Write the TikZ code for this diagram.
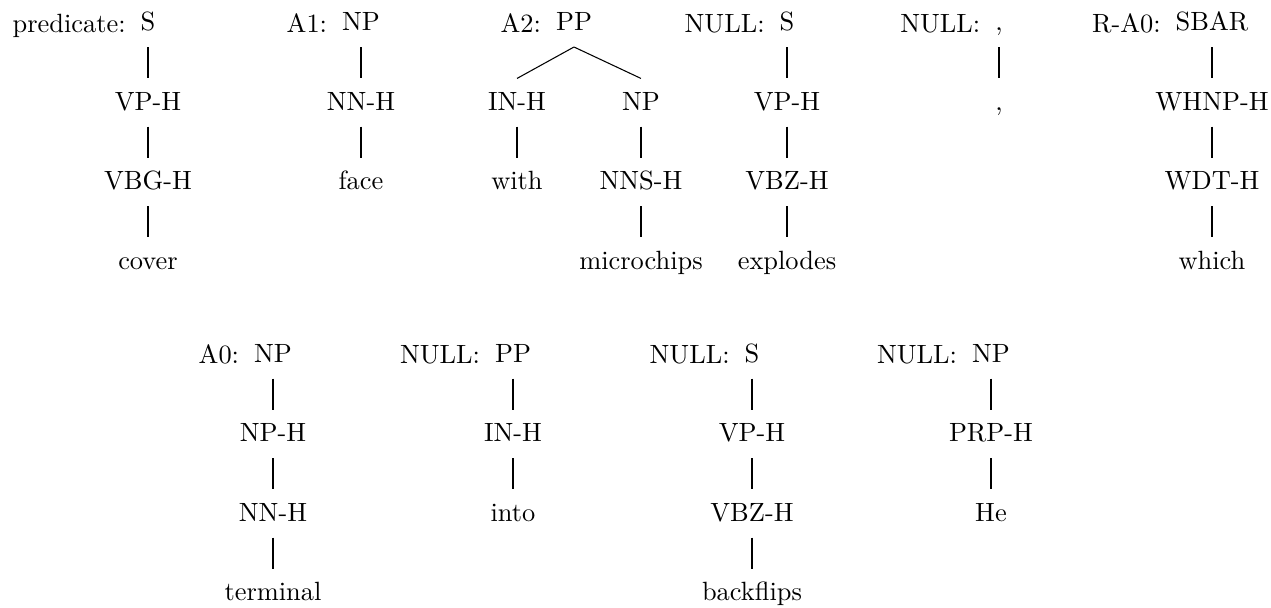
\documentclass[tikz,border=0pt]{standalone}
\begin{document}
\begin{tikzpicture}[x=0.37879pt,y=-0.37879pt,
  tn/.style={anchor=base, inner xsep=0pt, inner ysep=4.85pt,
             text height=6.9pt, text depth=1.2pt},
  lab/.style={anchor=base east, inner sep=0pt},
  every path/.style={line width=0.4pt}]
\useasboundingbox (0,0) rectangle (1271,608);

% ---------- upper row ----------
% predicate: S
\node[tn] (a0) at (148,30.5) {S};
\node[tn] (a1) at (148,110) {VP-H};
\node[tn] (a2) at (148,189.5) {VBG-H};
\node[tn] (a3) at (148,269) {cover};
\node[lab] (la) at ([xshift=-5.3pt,yshift=-0.6pt]a0.base west) {predicate:};
\draw (a0) -- (a1) (a1) -- (a2) (a2) -- (a3);

% A1: NP
\node[tn] (b0) at (361,30.5) {NP};
\node[tn] (b1) at (361,110) {NN-H};
\node[tn] (b2) at (361,189.5) {face};
\node[lab] (lb) at ([xshift=-5.3pt,yshift=-0.6pt]b0.base west) {A1:};
\draw (b0) -- (b1) (b1) -- (b2);

% A2: PP
\node[tn] (c0) at (574,30.5) {PP};
\node[tn] (c1) at (517,110) {IN-H};
\node[tn] (c2) at (517,189.5) {with};
\node[tn] (c3) at (641,110) {NP};
\node[tn] (c4) at (641,189.5) {NNS-H};
\node[tn] (c5) at (641,269) {microchips};
\node[lab] (lc) at ([xshift=-5.3pt,yshift=-0.6pt]c0.base west) {A2:};
\draw (c0.south) -- (c1.north) (c0.south) -- (c3.north);
\draw (c1) -- (c2) (c3) -- (c4) (c4) -- (c5);

% NULL: S
\node[tn] (d0) at (787,30.5) {S};
\node[tn] (d1) at (787,110) {VP-H};
\node[tn] (d2) at (787,189.5) {VBZ-H};
\node[tn] (d3) at (787,269) {explodes};
\node[lab] (ld) at ([xshift=-5.3pt,yshift=-0.6pt]d0.base west) {NULL:};
\draw (d0) -- (d1) (d1) -- (d2) (d2) -- (d3);

% NULL: ,
\node[tn] (e0) at (999,30.5) {,};
\node[tn] (e1) at (999,110) {,};
\node[lab] (le) at ([xshift=-5.3pt,yshift=-0.6pt]e0.base west) {NULL:};
\draw (e0) -- (e1);

% R-A0: SBAR
\node[tn] (f0) at (1212,30.5) {SBAR};
\node[tn] (f1) at (1212,110) {WHNP-H};
\node[tn] (f2) at (1212,189.5) {WDT-H};
\node[tn] (f3) at (1212,269) {which};
\node[lab] (lf) at ([xshift=-5.3pt,yshift=-0.6pt]f0.base west) {R-A0:};
\draw (f0) -- (f1) (f1) -- (f2) (f2) -- (f3);

% ---------- lower row ----------
% A0: NP
\node[tn] (g0) at (273,362) {NP};
\node[tn] (g1) at (273,441.5) {NP-H};
\node[tn] (g2) at (273,521) {NN-H};
\node[tn] (g3) at (273,600.5) {terminal};
\node[lab] (lg) at ([xshift=-5.3pt,yshift=-0.6pt]g0.base west) {A0:};
\draw (g0) -- (g1) (g1) -- (g2) (g2) -- (g3);

% NULL: PP
\node[tn] (h0) at (513,362) {PP};
\node[tn] (h1) at (513,441.5) {IN-H};
\node[tn] (h2) at (513,521) {into};
\node[lab] (lh) at ([xshift=-5.3pt,yshift=-0.6pt]h0.base west) {NULL:};
\draw (h0) -- (h1) (h1) -- (h2);

% NULL: S
\node[tn] (i0) at (752,362) {S};
\node[tn] (i1) at (752,441.5) {VP-H};
\node[tn] (i2) at (752,521) {VBZ-H};
\node[tn] (i3) at (752,600.5) {backflips};
\node[lab] (li) at ([xshift=-5.3pt,yshift=-0.6pt]i0.base west) {NULL:};
\draw (i0) -- (i1) (i1) -- (i2) (i2) -- (i3);

% NULL: NP
\node[tn] (j0) at (991,362) {NP};
\node[tn] (j1) at (991,441.5) {PRP-H};
\node[tn] (j2) at (991,521) {He};
\node[lab] (lj) at ([xshift=-5.3pt,yshift=-0.6pt]j0.base west) {NULL:};
\draw (j0) -- (j1) (j1) -- (j2);
\end{tikzpicture}
\end{document}
